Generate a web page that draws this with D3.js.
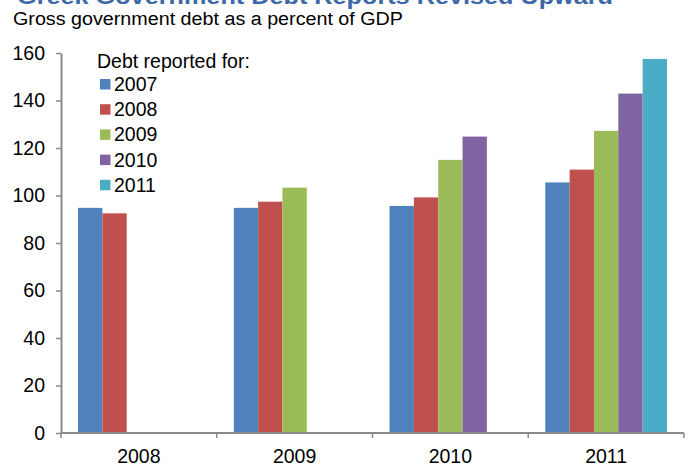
<!DOCTYPE html>
<html>
<head>
<meta charset="utf-8">
<script src="https://cdn.jsdelivr.net/npm/d3@7"></script>
<style>
  body { margin: 0; background: #fff; }
  svg { display: block; font-family: "Liberation Sans", Arial, sans-serif; }
</style>
</head>
<body>
<svg id="chart" width="689" height="466"></svg>
<script>
// Year in which the figures were reported (x categories)
const categories = ["2008", "2009", "2010", "2011"];
// Year the debt figure refers to (series)
const series = ["2007", "2008", "2009", "2010", "2011"];
// Gross debt, % of GDP, one array per series (null = not yet reported)
const debt2007 = [94.8, 94.8, 95.6, 105.5];
const debt2008 = [92.5, 97.4, 99.2, 110.9];
const debt2009 = [null, 103.3, 115.0, 127.2];
const debt2010 = [null, null, 124.8, 142.9];
const debt2011 = [null, null, null, 157.5];
const yTicks = [0, 20, 40, 60, 80, 100, 120, 140, 160];
const colors = ["#4f81bd", "#c0504d", "#9bbb59", "#8064a2", "#4bacc6"];

const seriesValues = [debt2007, debt2008, debt2009, debt2010, debt2011];

const svg = d3.select("#chart");
const plotLeft = 61, plotRight = 684, plotTop = 53, plotBottom = 433;
const axisColor = "#8a8a8a";
const fs = 19.5;

const x = d3.scaleBand().domain(categories).range([plotLeft, plotRight]).padding(0);
const xs = d3.scaleBand().domain(series).range([0, x.bandwidth()])
  .paddingInner(0).paddingOuter(0.7);
const y = d3.scaleLinear().domain([0, 160]).range([plotBottom, plotTop]);

// Title (partly above the visible area) and subtitle
svg.append("text").attr("x", 17).attr("y", 4)
  .attr("font-size", 22).attr("font-weight", "bold").attr("fill", "#3d68a8")
  .attr("textLength", 596).attr("lengthAdjust", "spacingAndGlyphs")
  .text("Greek Government Debt Reports Revised Upward");
svg.append("text").attr("x", 13).attr("y", 25)
  .attr("font-size", 18).attr("fill", "#000")
  .attr("textLength", 390).attr("lengthAdjust", "spacingAndGlyphs")
  .text("Gross government debt as a percent of GDP");

// Bars
const barData = [];
seriesValues.forEach((vals, si) => {
  vals.forEach((v, ci) => {
    if (v != null) barData.push({ cat: categories[ci], ser: series[si], si, v });
  });
});
svg.append("g").selectAll("rect").data(barData).join("rect")
  .attr("x", d => x(d.cat) + xs(d.ser))
  .attr("y", d => y(d.v))
  .attr("width", xs.bandwidth())
  .attr("height", d => y(0) - y(d.v))
  .attr("fill", d => colors[d.si]);

// Y axis
const yAxis = d3.axisLeft(y).tickValues(yTicks).tickSize(5).tickSizeOuter(0).tickPadding(11);
const gy = svg.append("g").attr("transform", `translate(${plotLeft},0)`).call(yAxis);
gy.select(".domain").attr("stroke", axisColor).attr("stroke-width", 2);
gy.selectAll(".tick line").attr("stroke", axisColor).attr("stroke-width", 1.5);
gy.selectAll(".tick text").attr("font-size", fs).attr("fill", "#000")
  .attr("font-family", "'Liberation Sans', Arial, sans-serif");

// X axis with ticks at band boundaries
const gx = svg.append("g").attr("transform", `translate(0,${plotBottom})`);
gx.append("line").attr("x1", plotLeft).attr("x2", plotRight).attr("y1", 0).attr("y2", 0)
  .attr("stroke", axisColor).attr("stroke-width", 2);
const boundaries = categories.map(c => x(c)).concat([plotRight]);
gx.selectAll("line.b").data(boundaries).join("line").attr("class", "b")
  .attr("x1", d => d).attr("x2", d => d).attr("y1", 0).attr("y2", 5)
  .attr("stroke", axisColor).attr("stroke-width", 1.5);
gx.selectAll("text").data(categories).join("text")
  .attr("x", d => x(d) + x.bandwidth() / 2).attr("y", 30)
  .attr("text-anchor", "middle").attr("font-size", fs).attr("fill", "#000")
  .text(d => d);

// Legend
const lg = svg.append("g");
lg.append("text").attr("x", 97).attr("y", 68).attr("font-size", fs).attr("fill", "#000")
  .text("Debt reported for:");
const items = lg.selectAll("g.item").data(series).join("g").attr("class", "item")
  .attr("transform", (d, i) => `translate(100,${84 + i * 25.2})`);
items.append("rect").attr("x", 0).attr("y", -5).attr("width", 10.5).attr("height", 10.5)
  .attr("fill", (d, i) => colors[i]);
items.append("text").attr("x", 14).attr("y", 7).attr("font-size", fs).attr("fill", "#000")
  .text(d => d);
</script>
</body>
</html>
